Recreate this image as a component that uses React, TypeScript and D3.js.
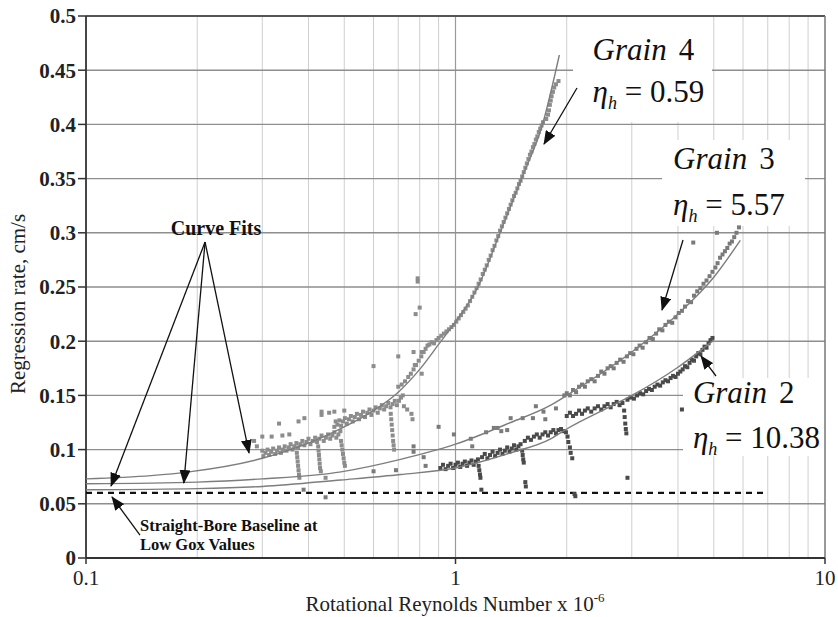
import React from 'react';
import * as d3 from 'd3';

const W = 838, H = 617;
const PL = 86, PR = 825, PT = 16, PB = 558;

const yTickValues = [0, 0.05, 0.1, 0.15, 0.2, 0.25, 0.3, 0.35, 0.4, 0.45, 0.5];
const yTickLabels = ['0', '0.05', '0.1', '0.15', '0.2', '0.25', '0.3', '0.35', '0.4', '0.45', '0.5'];
const xTickValues = [0.1, 1, 10];
const xTickLabels = ['0.1', '1', '10'];
const gridYValues = [0.05, 0.1, 0.15, 0.2, 0.25, 0.3, 0.35, 0.4, 0.45];
const gridXMinor = [0.2, 0.3, 0.4, 0.5, 0.6, 0.7, 0.8, 0.9, 2, 3, 4, 5, 6, 7, 8, 9];
const gridXMajor = [1];

type P = [number, number];

// Grain 4 (eta_h = 0.59)
const grain4Points: P[] = [
  [0.300,0.099],[0.302,0.094],[0.306,0.097],[0.310,0.100],[0.313,0.095],[0.317,0.098],[0.321,0.101],[0.325,0.096],[0.329,0.099],[0.333,0.102],[0.337,0.097],[0.341,0.100],[0.345,0.103],[0.349,0.099],[0.354,0.102],[0.358,0.105],[0.362,0.100],[0.366,0.103],[0.371,0.106],[0.375,0.102],[0.380,0.105],[0.385,0.108],[0.390,0.104],[0.395,0.107],[0.400,0.110],[0.405,0.105],[0.411,0.108],[0.417,0.111],[0.422,0.107],[0.428,0.110],[0.434,0.113],[0.440,0.108],[0.446,0.111],[0.452,0.114],[0.458,0.110],[0.464,0.113],[0.470,0.116],[0.476,0.111],[0.482,0.114],[0.488,0.117],
  [0.372,0.097],[0.373,0.093],[0.374,0.089],[0.375,0.085],[0.376,0.081],[0.377,0.077],[0.378,0.074],
  [0.425,0.103],[0.426,0.099],[0.427,0.095],[0.428,0.091],[0.429,0.087],[0.430,0.083],[0.432,0.080],[0.445,0.074],
  [0.490,0.108],[0.492,0.104],[0.494,0.100],[0.496,0.096],[0.498,0.092],[0.500,0.088],[0.502,0.085],
  [0.470,0.121],[0.474,0.126],[0.479,0.123],[0.485,0.127],[0.490,0.122],[0.496,0.126],[0.502,0.129],[0.508,0.124],[0.515,0.128],[0.521,0.131],[0.527,0.126],[0.534,0.130],[0.541,0.133],[0.548,0.128],[0.555,0.132],[0.562,0.135],[0.569,0.130],[0.577,0.134],[0.585,0.137],[0.592,0.132],[0.600,0.136],[0.608,0.139],[0.616,0.134],[0.624,0.138],[0.632,0.141],[0.641,0.137],[0.649,0.140],[0.658,0.143],[0.667,0.139],[0.676,0.142],[0.685,0.145],[0.694,0.141],[0.703,0.145],[0.712,0.148],[0.720,0.150],
  [0.668,0.133],[0.670,0.128],[0.672,0.123],[0.674,0.118],[0.676,0.113],[0.678,0.108],[0.680,0.104],[0.682,0.100],
  [0.725,0.140],[0.740,0.137],[0.760,0.133],[0.765,0.128],
  [0.700,0.158],[0.715,0.160],[0.730,0.163],[0.745,0.167],[0.757,0.170],[0.770,0.174],[0.782,0.178],[0.795,0.182],[0.808,0.186],[0.820,0.190],[0.830,0.193],[0.840,0.196],
  [0.850,0.197],[0.862,0.199],[0.875,0.198],[0.888,0.201],[0.900,0.203],[0.915,0.205],[0.930,0.207],[0.945,0.209],[0.960,0.211],[0.975,0.213],[0.990,0.215],[1.005,0.218],[1.020,0.221],[1.035,0.224],[1.050,0.227],[1.065,0.230],[1.080,0.233],[1.095,0.237],[1.110,0.241],[1.125,0.245],[1.140,0.249],[1.155,0.253],[1.170,0.257],[1.185,0.262],[1.200,0.266],[1.215,0.270],[1.230,0.275],[1.245,0.279],[1.260,0.284],[1.275,0.288],[1.290,0.293],[1.305,0.297],[1.320,0.302],[1.335,0.306],[1.350,0.310],[1.365,0.314],[1.380,0.318],[1.395,0.322],[1.410,0.326],[1.425,0.330],[1.440,0.334],[1.455,0.337],[1.470,0.341],[1.485,0.345],[1.500,0.348],[1.515,0.352],[1.530,0.356],[1.545,0.360],[1.560,0.364],[1.575,0.368],[1.590,0.372],[1.605,0.375],[1.620,0.379],[1.635,0.382],[1.650,0.386],[1.665,0.389],[1.680,0.393],[1.695,0.396],[1.710,0.399],[1.725,0.402],
  [1.760,0.405],[1.780,0.409],[1.790,0.413],[1.800,0.418],[1.810,0.422],[1.820,0.426],[1.835,0.430],[1.850,0.434],[1.870,0.437],[1.900,0.440],
  [0.333,0.124],[0.376,0.126],[0.390,0.129],[0.434,0.132],[0.434,0.135],[0.455,0.134],[0.470,0.135],[0.500,0.136],[0.300,0.112],[0.318,0.112],[0.340,0.113],[0.355,0.114],[0.600,0.177],[0.700,0.186],[0.770,0.190],[0.810,0.190],[0.776,0.178],[0.810,0.170],[0.790,0.258],[0.790,0.255],[0.800,0.231],[0.780,0.225],[0.285,0.108],[0.290,0.103],
];

// Grain 3 (eta_h = 5.57)
const grain3Points: P[] = [
  [0.388,0.063],[0.445,0.056],[0.600,0.080],[0.690,0.081],[0.770,0.103],[0.770,0.098],[0.820,0.093],[0.830,0.085],[0.900,0.121],[0.990,0.114],[1.100,0.110],[1.110,0.103],[1.210,0.116],[1.270,0.120],[1.300,0.120],[1.330,0.117],[1.380,0.118],[1.410,0.129],[1.520,0.129],[1.620,0.129],[1.650,0.140],[1.730,0.135],[1.750,0.128],[1.870,0.138],[1.970,0.150],
  [2.00,0.152],[2.04,0.150],[2.08,0.155],[2.12,0.153],[2.16,0.158],[2.20,0.160],[2.24,0.158],[2.28,0.163],[2.33,0.165],[2.38,0.163],[2.43,0.168],[2.48,0.172],[2.53,0.170],[2.58,0.175],[2.63,0.177],[2.68,0.175],[2.73,0.180],[2.79,0.183],[2.85,0.181],[2.91,0.186],[2.97,0.189],[3.03,0.188],[3.09,0.193],[3.15,0.196],[3.21,0.194],[3.28,0.199],[3.35,0.203],[3.42,0.202],[3.49,0.207],[3.56,0.211],[3.63,0.210],[3.70,0.215],[3.78,0.218],[3.86,0.217],[3.94,0.222],[4.02,0.226],[4.10,0.228],[4.18,0.232],[4.26,0.237],[4.34,0.236],[4.42,0.242],[4.51,0.246],[4.60,0.249],[4.69,0.253],[4.78,0.256],[4.87,0.260],[4.96,0.264],[5.05,0.268],[5.12,0.272],[5.20,0.277],[5.28,0.280],[5.36,0.283],[5.44,0.286],[5.52,0.290],[5.60,0.292],[5.68,0.296],[5.76,0.300],[5.85,0.305],
  [5.10,0.300],[4.40,0.291],
];

// Grain 2 (eta_h = 10.38)
const grain2Points: P[] = [
  [0.910,0.083],[0.925,0.086],[0.940,0.082],[0.955,0.085],[0.970,0.087],[0.985,0.083],[1.000,0.086],[1.015,0.088],[1.030,0.084],[1.045,0.087],[1.060,0.089],[1.075,0.085],[1.090,0.088],[1.105,0.090],[1.120,0.086],[1.135,0.089],[1.150,0.091],
  [1.155,0.085],[1.160,0.081],[1.165,0.077],[1.168,0.074],[1.175,0.063],
  [1.18,0.093],[1.20,0.096],[1.22,0.092],[1.24,0.095],[1.26,0.098],[1.28,0.094],[1.30,0.097],[1.32,0.100],[1.34,0.096],[1.36,0.099],[1.38,0.102],[1.40,0.098],[1.42,0.101],[1.44,0.104],[1.46,0.100],[1.48,0.103],[1.50,0.105],
  [1.515,0.099],[1.52,0.095],[1.525,0.091],[1.53,0.088],[1.545,0.070],[1.55,0.066],
  [1.54,0.108],[1.57,0.111],[1.60,0.109],[1.63,0.112],[1.66,0.114],[1.69,0.111],[1.72,0.114],[1.75,0.116],[1.78,0.113],[1.81,0.116],[1.84,0.118],[1.87,0.115],[1.90,0.118],[1.93,0.119],[1.96,0.117],[1.99,0.116],
  [2.01,0.112],[2.02,0.107],[2.04,0.102],[2.05,0.097],[2.07,0.092],[2.10,0.059],[2.11,0.057],
  [2.00,0.131],[2.04,0.134],[2.08,0.131],[2.12,0.133],[2.16,0.136],[2.20,0.133],[2.24,0.136],[2.28,0.138],[2.33,0.135],[2.38,0.138],[2.43,0.140],[2.48,0.137],[2.53,0.140],[2.58,0.142],[2.63,0.139],[2.68,0.142],[2.73,0.144],[2.78,0.141],[2.83,0.143],
  [2.86,0.136],[2.87,0.130],[2.88,0.124],[2.89,0.119],[2.90,0.115],[2.92,0.074],
  [2.92,0.146],[2.98,0.148],[3.04,0.147],[3.10,0.150],[3.16,0.152],[3.22,0.151],[3.28,0.154],[3.34,0.156],[3.40,0.155],[3.46,0.158],[3.52,0.160],[3.58,0.159],[3.64,0.162],[3.70,0.164],[3.76,0.163],[3.82,0.166],[3.88,0.168],[3.94,0.167],[4.00,0.170],[4.06,0.172],
  [4.12,0.174],[4.18,0.177],[4.24,0.176],[4.30,0.180],[4.36,0.183],[4.42,0.182],[4.48,0.186],[4.54,0.189],[4.60,0.188],[4.66,0.192],[4.72,0.195],[4.78,0.194],[4.84,0.198],[4.90,0.201],[4.96,0.203],
  [4.10,0.137],
];

const grain4Fit: P[] = [[0.1,0.073],[0.15,0.076],[0.19,0.0795],[0.3,0.092],[0.4,0.106],[0.5,0.121],[0.6,0.136],[0.7,0.153],[0.8,0.174],[0.9,0.197],[1.0,0.218],[1.15,0.25],[1.32,0.30],[1.51,0.35],[1.72,0.40],[1.91,0.464]];
const grain3Fit: P[] = [[0.1,0.0685],[0.2,0.070],[0.3,0.073],[0.49,0.0795],[0.71,0.091],[1.0,0.105],[1.41,0.125],[1.81,0.141],[2.0,0.150],[3.0,0.190],[4.0,0.225],[5.0,0.259],[5.9,0.293]];
const grain2Fit: P[] = [[0.1,0.063],[0.2,0.064],[0.3,0.066],[0.49,0.072],[0.71,0.077],[1.0,0.083],[1.41,0.097],[1.81,0.110],[2.0,0.119],[2.67,0.141],[3.0,0.150],[4.0,0.176],[5.0,0.201]];

const baselineValue = 0.06;
const baselineExtent = [0.1, 7];

const FONT = 'Liberation Serif';

export default function App() {
  const x = d3.scaleLog().domain([0.1, 10]).range([PL, PR]);
  const y = d3.scaleLinear().domain([0, 0.5]).range([PB, PT]);
  const line = d3.line<P>().x(d => x(d[0])).y(d => y(d[1])).curve(d3.curveMonotoneX);

  const arrows: { from: P; to: P }[] = [
    { from: [0.210, 0.2915], to: [0.1169, 0.0664] },
    { from: [0.210, 0.2915], to: [0.184, 0.0692] },
    { from: [0.210, 0.2915], to: [0.2762, 0.0969] },
    { from: [0.140, 0.0212], to: [0.1176, 0.0563] },
    { from: [2.132, 0.4336], to: [1.736, 0.3819] },
    { from: [4.128, 0.2934], to: [3.622, 0.2288] },
    { from: [5.07, 0.1679], to: [4.618, 0.1863] },
  ];

  const grainLabels = [
    { name: '4', eta: '0.59', x: 2.35, yt: 0.4594, ye: 0.4207, box: [573, 17, 712, 122] },
    { name: '3', eta: '5.57', x: 3.88, yt: 0.3589, ye: 0.3164, box: [662, 140, 805, 226] },
    { name: '2', eta: '10.38', x: 4.39, yt: 0.143, ye: 0.1015, box: [683, 378, 826, 456] },
  ];

  const series = [
    { pts: grain4Points, color: '#8c8c8c' },
    { pts: grain3Points, color: '#7a7a7a' },
    { pts: grain2Points, color: '#4a4a4a' },
  ];

  const T = { fontFamily: FONT } as React.CSSProperties;

  return (
    <svg width={W} height={H} style={{ position: 'absolute', left: 0, top: 0, background: '#fff' }}>
      <defs>
        <marker id="ah" markerWidth={14} markerHeight={11} refX={13} refY={5.5} orient="auto" markerUnits="userSpaceOnUse">
          <path d="M0,0 L14,5.5 L0,11 z" fill="#111" />
        </marker>
      </defs>
      <rect x={0} y={0} width={W} height={H} fill="#fff" />
      {gridXMinor.map(v => (
        <line key={'vx' + v} x1={x(v)} x2={x(v)} y1={PT} y2={PB} stroke="#cfcfcf" strokeWidth={1} />
      ))}
      {gridXMajor.map(v => (
        <line key={'vX' + v} x1={x(v)} x2={x(v)} y1={PT} y2={PB} stroke="#9a9a9a" strokeWidth={1.2} />
      ))}
      {gridYValues.map(v => (
        <line key={'hy' + v} x1={PL} x2={PR} y1={y(v)} y2={y(v)} stroke="#8e8e8e" strokeWidth={1.4} />
      ))}
      {grainLabels.map(g => (
        <rect key={'bx' + g.name} x={g.box[0]} y={g.box[1]} width={g.box[2] - g.box[0]} height={g.box[3] - g.box[1]} fill="#fff" />
      ))}
      <line x1={PL} x2={PR} y1={PT} y2={PT} stroke="#555" strokeWidth={1.8} />
      <line x1={PR} x2={PR} y1={PT} y2={PB} stroke="#777" strokeWidth={1.5} />
      <line x1={PL} x2={PL} y1={PT} y2={PB} stroke="#333" strokeWidth={1.8} />
      <line x1={PL} x2={PR} y1={PB} y2={PB} stroke="#333" strokeWidth={1.8} />
      <line x1={x(baselineExtent[0])} x2={x(baselineExtent[1])} y1={y(baselineValue)} y2={y(baselineValue)} stroke="#111" strokeWidth={2.2} strokeDasharray="6,5" />
      {series.map((s, i) => (
        <g key={'s' + i} fill={s.color}>
          {s.pts.map((p, j) => (
            <rect key={j} x={x(p[0]) - 2} y={y(p[1]) - 2} width={4} height={4} />
          ))}
        </g>
      ))}
      {[grain4Fit, grain3Fit, grain2Fit].map((f, i) => (
        <path key={'f' + i} d={line(f) || ''} fill="none" stroke="#7d7d7d" strokeWidth={1.4} />
      ))}
      {yTickValues.map((v, i) => (
        <g key={'yt' + i}>
          <line x1={PL - 8} x2={PL} y1={y(v)} y2={y(v)} stroke="#333" strokeWidth={1.5} />
          <text style={T} x={PL - 10} y={y(v)} dy="0.35em" textAnchor="end" fontSize={21} fontWeight="bold" fill="#222">{yTickLabels[i]}</text>
        </g>
      ))}
      {xTickValues.map((v, i) => (
        <g key={'xt' + i}>
          <line x1={x(v)} x2={x(v)} y1={PB} y2={PB + 6} stroke="#333" strokeWidth={1.5} />
          <text style={T} x={x(v)} y={PB + 27} textAnchor="middle" fontSize={21} fill="#222">{xTickLabels[i]}</text>
        </g>
      ))}
      <text style={T} x={455} y={611} textAnchor="middle" fontSize={21} fill="#222">
        <tspan>Rotational Reynolds Number x 10</tspan>
        <tspan dy={-9} fontSize={13}>-6</tspan>
      </text>
      <text style={T} transform="translate(25,304) rotate(-90)" textAnchor="middle" fontSize={21} fill="#222">Regression rate, cm/s</text>
      {arrows.map((a, i) => (
        <line key={'ar' + i} x1={x(a.from[0])} y1={y(a.from[1])} x2={x(a.to[0])} y2={y(a.to[1])} stroke="#111" strokeWidth={1.3} markerEnd="url(#ah)" />
      ))}
      <text style={T} x={216} y={235} textAnchor="middle" fontSize={20} fontWeight="bold" fill="#111">Curve Fits</text>
      <text style={T} x={140} y={531} fontSize={16.5} fontWeight="bold" fill="#111">Straight-Bore Baseline at</text>
      <text style={T} x={140} y={550} fontSize={16.5} fontWeight="bold" fill="#111">Low Gox Values</text>
      {grainLabels.map(g => (
        <g key={'gl' + g.name} fill="#111">
          <text style={T} x={x(g.x)} y={y(g.yt)} fontSize={31}>
            <tspan fontStyle="italic">Grain</tspan>
            <tspan dx={12}>{g.name}</tspan>
          </text>
          <text style={T} x={x(g.x)} y={y(g.ye)} fontSize={31}>
            <tspan fontStyle="italic">η</tspan>
            <tspan fontStyle="italic" fontSize={18} dy={7}>h</tspan>
            <tspan dy={-7}>{' = ' + g.eta}</tspan>
          </text>
        </g>
      ))}
    </svg>
  );
}
